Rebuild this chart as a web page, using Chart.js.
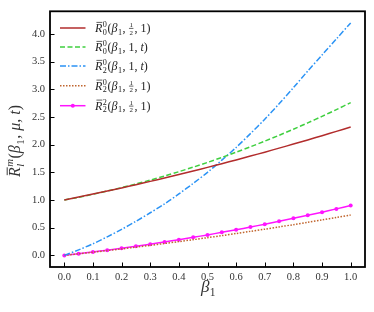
<!DOCTYPE html>
<html><head><meta charset="utf-8">
<script src="https://cdn.jsdelivr.net/npm/chart.js@4/dist/chart.umd.min.js"></script>
<style>html,body{margin:0;padding:0;background:#fff;}</style>
</head><body>
<canvas id="c" width="374" height="312" style="width:374px;height:312px;display:block"></canvas>
<script>
// ---- data ----
const beta = [0,0.05,0.1,0.15,0.2,0.25,0.3,0.35,0.4,0.45,0.5,0.55,0.6,0.65,0.7,0.75,0.8,0.85,0.9,0.95,1.0];
const R00_half_1 = [1.000,1.053,1.107,1.162,1.219,1.278,1.337,1.398,1.461,1.525,1.590,1.657,1.725,1.794,1.865,1.938,2.011,2.086,2.163,2.241,2.320];
const R00_1_t    = [1.000,1.050,1.104,1.162,1.224,1.290,1.360,1.434,1.512,1.594,1.680,1.770,1.864,1.962,2.064,2.170,2.280,2.394,2.512,2.634,2.760];
const R20_1_t    = [0.000,0.100,0.210,0.335,0.470,0.615,0.770,0.930,1.110,1.300,1.500,1.720,1.950,2.200,2.460,2.740,3.030,3.330,3.620,3.910,4.200];
const R20_half_1 = [0.000,0.028,0.057,0.087,0.117,0.149,0.181,0.215,0.249,0.284,0.320,0.357,0.395,0.434,0.473,0.514,0.555,0.598,0.641,0.685,0.730];
const R22_half_1 = [0.000,0.030,0.061,0.094,0.129,0.165,0.203,0.242,0.283,0.326,0.370,0.416,0.463,0.512,0.563,0.615,0.669,0.724,0.781,0.840,0.900];
const xTickValues = [0,0.1,0.2,0.3,0.4,0.5,0.6,0.7,0.8,0.9,1.0];
const yTickValues = [0,0.5,1.0,1.5,2.0,2.5,3.0,3.5,4.0];
// legend label parts: [sub, sup, argument list]
const legendParts = [
  ['0','0',['frac','1']],
  ['0','0',['1','t']],
  ['2','0',['1','t']],
  ['2','0',['frac','1']],
  ['2','2',['frac','1']]
];

const SERIF = '"Liberation Serif", "DejaVu Serif", serif';
function pts(ys){ return beta.map((b,i)=>({x:b,y:ys[i]})); }

// simple math text renderer on canvas (real text via fillText)
function mathRun(ctx, x, y, toks, fs, draw){
  let cx = x;
  for (const t of toks){
    if (t.k==='t'){
      ctx.font = (t.i?'italic ':'') + fs + 'px ' + SERIF;
      const w = ctx.measureText(t.s).width;
      if (draw){
        ctx.fillText(t.s, cx, y);
        if (t.bar){
          ctx.save(); ctx.lineWidth = fs*0.06; ctx.beginPath();
          ctx.moveTo(cx+fs*0.12, y-fs*0.80); ctx.lineTo(cx+w, y-fs*0.80); ctx.stroke(); ctx.restore();
        }
      }
      cx += w + (t.sp||0);
    } else if (t.k==='ss'){
      const f = fs*0.68;
      ctx.font = (t.i?'italic ':'') + f + 'px ' + SERIF;
      const w1 = t.sup ? ctx.measureText(t.sup).width : 0;
      const w2 = t.sub ? ctx.measureText(t.sub).width : 0;
      if (draw){
        if (t.sup) ctx.fillText(t.sup, cx+0.5, y - fs*0.42);
        if (t.sub) ctx.fillText(t.sub, cx+0.5, y + fs*0.22);
      }
      cx += Math.max(w1,w2) + 1;
    } else if (t.k==='frac'){
      const f = fs*0.58;
      ctx.font = f + 'px ' + SERIF;
      const w = Math.max(ctx.measureText(t.n).width, ctx.measureText(t.d).width) + 1;
      if (draw){
        ctx.save(); ctx.textAlign='center';
        ctx.fillText(t.n, cx + w/2 + 0.5, y - fs*0.40);
        ctx.fillText(t.d, cx + w/2 + 0.5, y + fs*0.22);
        ctx.lineWidth = 0.7; ctx.beginPath();
        ctx.moveTo(cx+0.5, y - fs*0.30); ctx.lineTo(cx + w + 0.5, y - fs*0.30); ctx.stroke();
        ctx.restore();
      }
      cx += w + 1.5;
    }
  }
  return cx - x;
}

function legendTokens(p){
  const toks = [{k:'t',s:'R',i:true,bar:true},{k:'ss',sup:p[1],sub:p[0]},
    {k:'t',s:'('},{k:'t',s:'β',i:true},{k:'ss',sub:'1'},{k:'t',s:', '}];
  p[2].forEach((a,j)=>{
    if (a==='frac') toks.push({k:'frac',n:'1',d:'2'});
    else if (a==='t') toks.push({k:'t',s:'t',i:true});
    else toks.push({k:'t',s:a});
    if (j < p[2].length-1) toks.push({k:'t',s:', '});
  });
  toks.push({k:'t',s:')'});
  return toks;
}

const decor = {
  id:'decor',
  afterDatasetsDraw(chart){
    const {ctx, chartArea:a, scales} = chart;
    ctx.save();
    // inward ticks
    ctx.strokeStyle = '#000'; ctx.lineWidth = 1;
    xTickValues.forEach(v=>{
      const px = Math.round(scales.x.getPixelForValue(v))+0.5;
      ctx.beginPath(); ctx.moveTo(px, a.bottom); ctx.lineTo(px, a.bottom-4.5); ctx.stroke();
    });
    yTickValues.forEach(v=>{
      const py = Math.round(scales.y.getPixelForValue(v))+0.5;
      ctx.beginPath(); ctx.moveTo(a.left, py); ctx.lineTo(a.left+4.5, py); ctx.stroke();
    });
    // frame
    ctx.lineWidth = 1.8;
    ctx.strokeRect(a.left, a.top, a.right-a.left, a.bottom-a.top);

    // legend
    const rowsY = [28, 47, 66, 85.7, 105.7];
    chart.data.datasets.forEach((ds,i)=>{
      const y = rowsY[i];
      ctx.save();
      ctx.strokeStyle = ds.borderColor; ctx.lineWidth = ds.borderWidth;
      ctx.setLineDash(ds.borderDash||[]);
      ctx.beginPath(); ctx.moveTo(60, y); ctx.lineTo(85.5, y); ctx.stroke();
      ctx.setLineDash([]);
      if (ds.pointRadius>0){
        ctx.fillStyle = ds.borderColor;
        ctx.beginPath(); ctx.arc(72.8, y, ds.pointRadius, 0, Math.PI*2); ctx.fill();
      }
      ctx.restore();
      ctx.fillStyle = '#222'; ctx.strokeStyle = '#222';
      mathRun(ctx, 95, y+4, legendTokens(legendParts[i]), 12, true);
    });

    // axis titles
    ctx.fillStyle = '#333'; ctx.strokeStyle = '#333';
    const yt = [{k:'t',s:'R',i:true,bar:true},{k:'ss',sup:'m',sub:'l',i:true},
      {k:'t',s:'('},{k:'t',s:'β',i:true},{k:'ss',sub:'1'},{k:'t',s:', '},
      {k:'t',s:'μ',i:true},{k:'t',s:', '},{k:'t',s:'t',i:true},{k:'t',s:')'}];
    const fsY = 16;
    const w = mathRun(ctx, 0, 0, yt, fsY, false);
    ctx.save(); ctx.translate(20, 141); ctx.rotate(-Math.PI/2);
    mathRun(ctx, -w/2, 0, yt, fsY, true);
    ctx.restore();
    const xt = [{k:'t',s:'β',i:true},{k:'ss',sub:'1'}];
    const wx = mathRun(ctx, 0, 0, xt, 17, false);
    mathRun(ctx, (a.left+a.right)/2 - wx/2 + 1, 292, xt, 17, true);
    ctx.restore();
  }
};

new Chart(document.getElementById('c'), {
  type:'line',
  data:{ datasets:[
    {data:pts(R00_half_1), borderColor:'#b22c2c', borderWidth:1.5, pointRadius:0, fill:false},
    {data:pts(R00_1_t), borderColor:'#3fcf3f', borderWidth:1.5, borderDash:[5,2.5], pointRadius:0, fill:false},
    {data:pts(R20_1_t), borderColor:'#2b93f5', borderWidth:1.5, borderDash:[6,2,1.5,2], pointRadius:0, fill:false},
    {data:pts(R20_half_1), borderColor:'#c0652e', borderWidth:1.5, borderDash:[1.5,1.5], pointRadius:0, fill:false},
    {data:pts(R22_half_1), borderColor:'#ff14ff', backgroundColor:'#ff14ff', borderWidth:1.5, pointRadius:2, pointBorderWidth:0, pointStyle:'circle', fill:false}
  ]},
  options:{
    responsive:false, animation:false, devicePixelRatio:1,
    layout:{padding:{top:9, right:9, left:0, bottom:0}},
    plugins:{legend:{display:false}, tooltip:{enabled:false}},
    elements:{line:{tension:0.3}},
    scales:{
      x:{type:'linear', min:-0.05, max:1.05,
        afterBuildTicks(s){ s.ticks = xTickValues.map(v=>({value:v})); },
        afterFit(s){ s.height = 45; },
        grid:{display:false, drawTicks:false}, border:{display:false},
        ticks:{padding:4, color:'#333', font:{family:SERIF, size:10.5}, maxRotation:0, autoSkip:false,
          callback:v=>Number(v).toFixed(1)}
      },
      y:{type:'linear', min:-0.21, max:4.41,
        afterBuildTicks(s){ s.ticks = yTickValues.map(v=>({value:v})); },
        afterFit(s){ s.width = 50; },
        grid:{display:false, drawTicks:false}, border:{display:false},
        ticks:{padding:5, color:'#333', font:{family:SERIF, size:10.5}, autoSkip:false,
          callback:v=>Number(v).toFixed(1)}
      }
    }
  },
  plugins:[decor]
});
</script>
</body></html>
